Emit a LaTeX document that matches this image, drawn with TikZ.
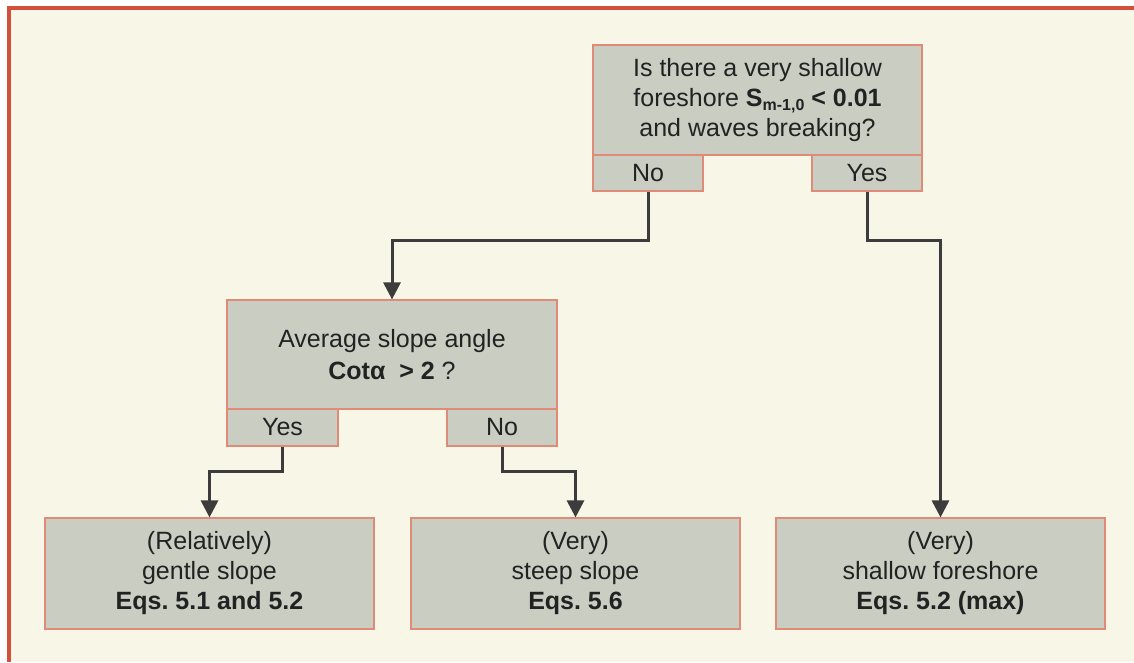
\documentclass[tikz,border=0pt]{standalone}
\usepackage{fontspec}
\setmainfont{Liberation Sans}
\usetikzlibrary{arrows.meta}
\definecolor{cream}{HTML}{F8F6E7}
\definecolor{boxgray}{HTML}{C9CDC2}
\definecolor{salmon}{HTML}{E08A78}
\definecolor{framered}{HTML}{D2503A}
\definecolor{txt}{HTML}{222222}
\definecolor{arrowgray}{HTML}{3C3C3C}
\frenchspacing
\begin{document}
\begin{tikzpicture}[x=1pt,y=-1pt,
  box/.style={draw=salmon, line width=1.2pt, fill=boxgray, inner sep=0pt, text=txt,
    align=center, font=\fontsize{25}{30}\selectfont},
  tab/.style={box, minimum width=110pt, minimum height=36pt},
  conn/.style={draw=arrowgray, line width=3pt,
    -{Triangle[length=17pt,width=17pt]}},
]
\fill[white] (0,0) rectangle (1134,662);
\useasboundingbox (0,0) rectangle (1134,662);
\fill[cream] (8,8) rectangle (1134,662);
\draw[framered, line width=4pt] (8.5,662) -- (8.5,8) -- (1134,8);

% top question
\node[box, minimum width=329pt, minimum height=110pt] (q1) at (757.5,100)
  {Is there a very shallow\\foreshore \textbf{S\raisebox{-4pt}{\fontsize{16}{16}\selectfont m-1,0} {<} 0.01}\\and waves breaking?};
\node[tab] (q1no) at (648,173) {No};
\node[tab] (q1yes) at (867,173) {Yes};

% middle question
\node[box, minimum width=330pt, minimum height=109pt] (q2) at (392,354.5)
  {Average slope angle\\[2pt]\textbf{Cotα\ \ > 2} ?};
\node[tab, minimum width=111pt, minimum height=37pt] (q2yes) at (282.5,427.5) {Yes};
\node[tab, minimum width=110pt, minimum height=37pt] (q2no) at (502,427.5) {No};

% results
\node[box, minimum width=329pt, minimum height=111pt] (r1) at (209.5,573.5)
  {(Relatively)\\gentle slope\\\textbf{Eqs. 5.1 and 5.2}};
\node[box, minimum width=329pt, minimum height=111pt] (r2) at (575.5,573.5)
  {(Very)\\steep slope\\\textbf{Eqs. 5.6}};
\node[box, minimum width=329pt, minimum height=111pt] (r3) at (940.5,573.5)
  {(Very)\\shallow foreshore\\\textbf{Eqs. 5.2 (max)}};

% connectors
\draw[conn] (q1no.south) -- ++(0,49) -| (q2.north);
\draw[conn] (q1yes.south) -- ++(0,49) -| (r3.north);
\draw[conn] (q2yes.south) -- ++(0,25) -| (r1.north);
\draw[conn] (q2no.south) -- ++(0,25) -| (r2.north);
\end{tikzpicture}
\end{document}
